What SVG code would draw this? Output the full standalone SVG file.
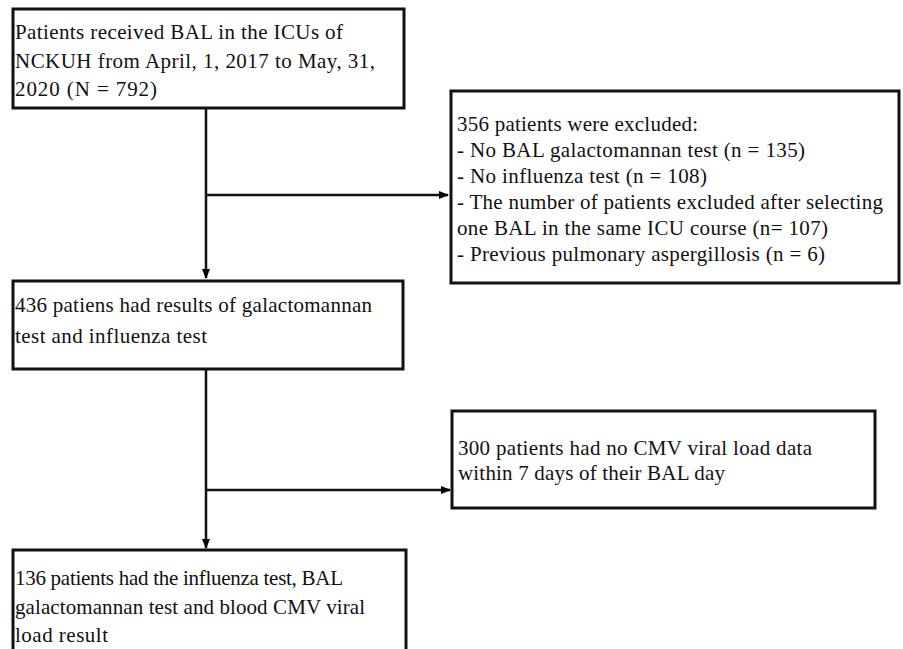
<svg xmlns="http://www.w3.org/2000/svg" width="903" height="649" viewBox="0 0 903 649">
<defs>
<marker id="ah" viewBox="0 0 10 10" refX="9" refY="5" markerWidth="4" markerHeight="4" orient="auto" markerUnits="strokeWidth">
<path d="M0,1 L10,5 L0,9 Z" fill="#000"/>
</marker>
<style>
.box{fill:#fff;stroke:#111;stroke-width:3}
.t{font-family:"Liberation Serif","Times New Roman",serif;font-size:21px;fill:#111}
.c{fill:none;stroke:#111;stroke-width:2.5}
</style>
</defs>
<rect width="903" height="649" fill="#fff"/>
<g id="connectors">
<line class="c" x1="206" y1="108" x2="206" y2="278" marker-end="url(#ah)"/>
<line class="c" x1="206" y1="195" x2="448" y2="195" marker-end="url(#ah)"/>
<line class="c" x1="206" y1="369" x2="206" y2="548" marker-end="url(#ah)"/>
<line class="c" x1="206" y1="490" x2="450" y2="490" marker-end="url(#ah)"/>
</g>
<g id="n1">
<rect class="box" x="13" y="9" width="391" height="99"/>
<text class="t" x="15" y="39" textLength="328" lengthAdjust="spacing">Patients received BAL in the ICUs of</text>
<text class="t" x="15" y="68" textLength="360" lengthAdjust="spacing">NCKUH from April, 1, 2017 to May, 31,</text>
<text class="t" x="15" y="96" textLength="142" lengthAdjust="spacing">2020 (N = 792)</text>
</g>
<g id="n2">
<rect class="box" x="451" y="91" width="448" height="192"/>
<text class="t" x="457" y="131" textLength="241" lengthAdjust="spacing">356 patients were excluded:</text>
<text class="t" x="457" y="157" textLength="348" lengthAdjust="spacing">- No BAL galactomannan test (n = 135)</text>
<text class="t" x="457" y="183" textLength="250" lengthAdjust="spacing">- No influenza test (n = 108)</text>
<text class="t" x="457" y="209" textLength="426" lengthAdjust="spacing">- The number of patients excluded after selecting</text>
<text class="t" x="457" y="235" textLength="371" lengthAdjust="spacing">one BAL in the same ICU course (n= 107)</text>
<text class="t" x="457" y="261" textLength="368" lengthAdjust="spacing">- Previous pulmonary aspergillosis (n = 6)</text>
</g>
<g id="n3">
<rect class="box" x="13" y="281" width="390" height="88"/>
<text class="t" x="15" y="312" textLength="357" lengthAdjust="spacing">436 patiens had results of galactomannan</text>
<text class="t" x="15" y="343" textLength="192" lengthAdjust="spacing">test and influenza test</text>
</g>
<g id="n4">
<rect class="box" x="452" y="411" width="423" height="97"/>
<text class="t" x="458" y="455" textLength="354" lengthAdjust="spacing">300 patients had no CMV viral load data</text>
<text class="t" x="458" y="480" textLength="267" lengthAdjust="spacing">within 7 days of their BAL day</text>
</g>
<g id="n5">
<rect class="box" x="13" y="550" width="393" height="110"/>
<text class="t" x="15" y="585" textLength="328" lengthAdjust="spacing">136 patients had the influenza test, BAL</text>
<text class="t" x="15" y="614" textLength="350" lengthAdjust="spacing">galactomannan test and blood CMV viral</text>
<text class="t" x="15" y="642" textLength="93" lengthAdjust="spacing">load result</text>
</g>
</svg>
